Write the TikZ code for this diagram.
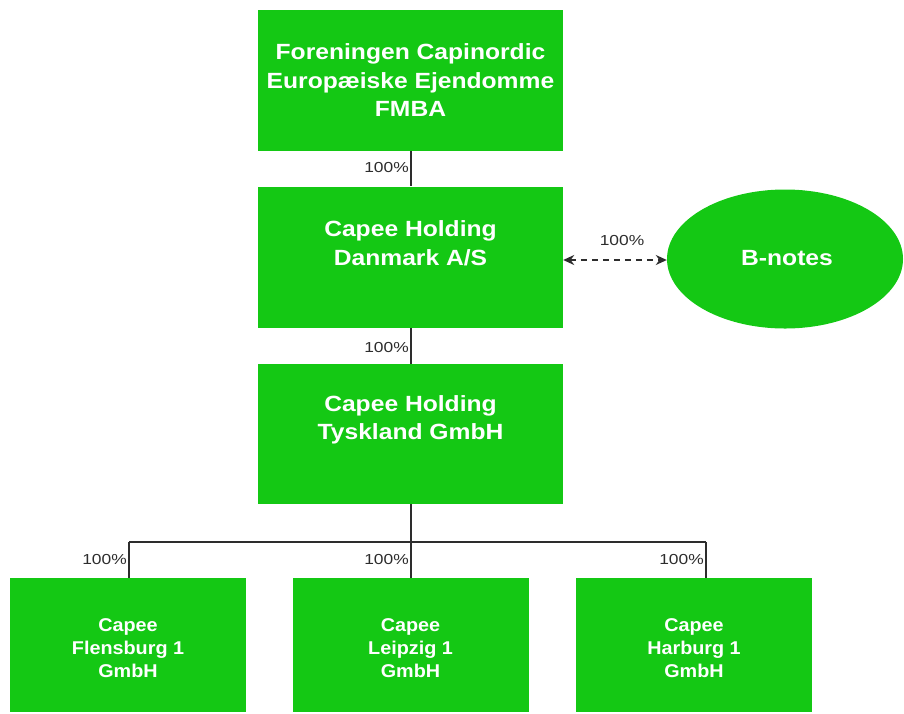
\documentclass[tikz,border=0pt]{standalone}
\usepackage{fontspec}
\setmainfont{Liberation Sans}
\newfontfamily\boxfont[FakeStretch=1.12]{Liberation Sans}
\newfontfamily\smallboxfont[FakeStretch=1.07]{Liberation Sans}
\newfontfamily\pctfont[FakeStretch=1.2]{Liberation Sans}
\usetikzlibrary{shapes.geometric,arrows.meta}
\definecolor{boxgreen}{RGB}{20,200,20}
\definecolor{linegray}{RGB}{45,45,45}
\begin{document}
\begin{tikzpicture}[x=1pt,y=-1pt,
  box/.style={fill=boxgreen, draw=none, minimum width=305pt, minimum height=141pt, inner sep=0pt},
  smallbox/.style={fill=boxgreen, draw=none, minimum width=236pt, minimum height=134pt, inner sep=0pt},
  bigtext/.style={text=white, font=\boxfont\bfseries\fontsize{22}{28.5}\selectfont, align=center, inner sep=0pt},
  smalltext/.style={text=white, font=\smallboxfont\bfseries\fontsize{18.5}{23}\selectfont, align=center, inner sep=0pt},
  pct/.style={text=linegray, font=\pctfont\fontsize{14.5}{15}\selectfont, inner sep=1pt, anchor=east},
  conn/.style={draw=linegray, line width=2pt},
]
\useasboundingbox (0,0) rectangle (904,713);

% boxes
\node[box] (fmba) at (410.5,80.5) {};
\node[bigtext] (fmbaT) at (410.5,80.5) {Foreningen Capinordic\\Europæiske Ejendomme\\FMBA};
\node[box] (dk) at (410.5,257) {};
\node[bigtext] (dkT) at (410.5,243) {Capee Holding\\Danmark A/S};
\node[box, minimum height=140pt] (de) at (410.5,434) {};
\node[bigtext] (deT) at (410.5,420) {Capee Holding\\Tyskland GmbH};
\node[ellipse, fill=boxgreen, draw=none, minimum width=236pt, minimum height=139pt, inner sep=0pt] (bn) at (785,259) {};
\node[bigtext] (bnT) at (787,258) {B-notes};

\node[smallbox] (f1) at (128,645) {};
\node[smalltext] (f1T) at (128,648) {Capee\\Flensburg 1\\GmbH};
\node[smallbox] (f2) at (410.5,645) {};
\node[smalltext] (f2T) at (410.5,648) {Capee\\Leipzig 1\\GmbH};
\node[smallbox] (f3) at (694,645) {};
\node[smalltext] (f3T) at (694,648) {Capee\\Harburg 1\\GmbH};

% connectors
\coordinate (bus) at (411,542);
\coordinate (b1) at (129,542);
\coordinate (b3) at (706,542);
\draw[conn] (fmba.south -| bus) -- (dk.north -| bus);
\draw[conn] (dk.south -| bus) -- (de.north -| bus);
\draw[conn] (de.south -| bus) -- (bus);
\draw[conn] (b1) -- (b3);
\draw[conn] (b1) -- (b1 |- f1.north);
\draw[conn] (bus) -- (bus |- f2.north);
\draw[conn] (b3) -- (b3 |- f3.north);
\draw[draw=linegray, line width=2pt, dash pattern=on 6pt off 5pt, {Stealth[length=11pt,width=10pt]}-{Stealth[length=11pt,width=10pt]}] (dk.east |- 0,260) -- (bn.west |- 0,260);

% labels
\node[pct] (p1) at (410,168) {100\%};
\node[pct] (p2) at (410,347) {100\%};
\node[pct, anchor=center] (p3) at (622,241) {100\%};
\node[pct] (p4) at (128,559) {100\%};
\node[pct] (p5) at (410,559) {100\%};
\node[pct] (p6) at (705,559) {100\%};
\end{tikzpicture}
\end{document}
